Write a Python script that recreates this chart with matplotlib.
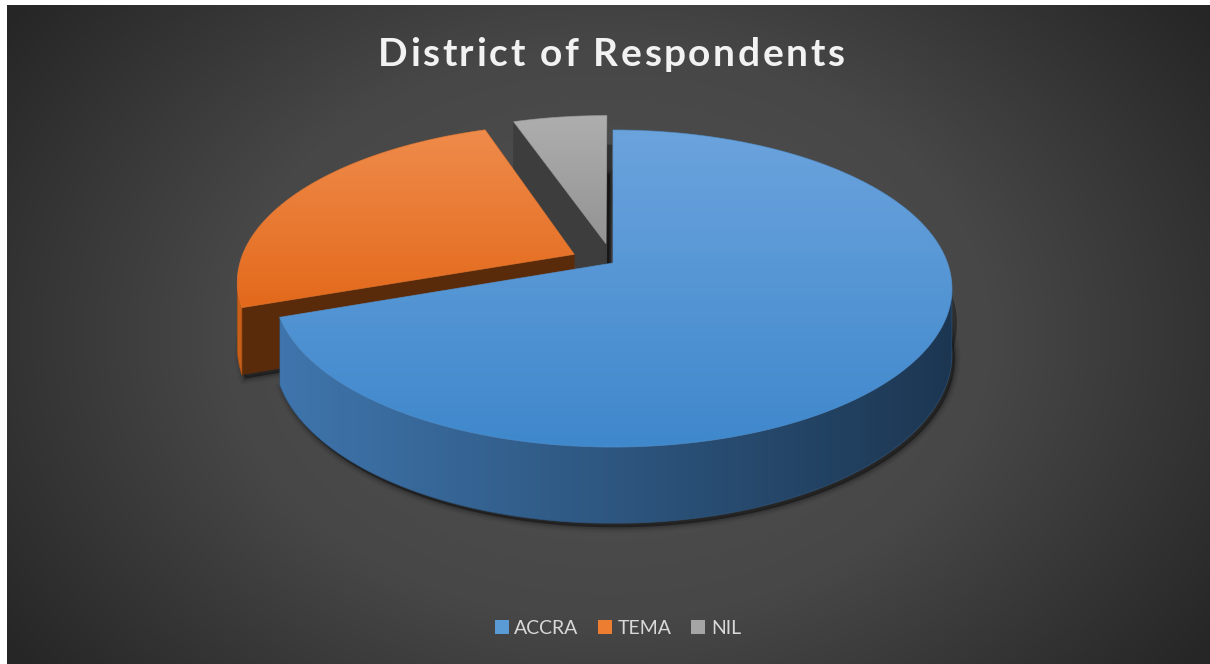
import numpy as np
import matplotlib
matplotlib.use('Agg')
import matplotlib.pyplot as plt
from matplotlib.patches import Polygon, Patch
from matplotlib.colors import to_rgb

labels = ['ACCRA', 'TEMA', 'NIL']
shares = [69.6, 25.1, 5.3]
explode = [0.0, 0.13, 0.13]
title = 'District of Respondents'

legend_col = ['#5B9BD5', '#ED7D31', '#A5A5A5']
top_light = ['#6BA3DD', '#EF8B4B', '#AEAEAE']
top_dark = ['#3F88CC', '#E3691B', '#939393']
side_light = ['#4179B2', '#C9601A', '#7A7A7A']
side_dark = ['#1C3651', '#8A3E0C', '#4A4A4A']
face_col = ['#203F60', '#5A2B0A', '#3D3D3D']

# pseudo-perspective projection of the pie disc (pixel space)
CX, CY = 613.0, 263.0
RX, RY = 334.5, 154.4
PERSP = 0.161
DEPTH = 64.0


def proj(u, v, z):
    s = 1.0 / (1.0 + PERSP * v)
    return np.column_stack([CX + RX * u * s, CY - RY * v * s + z * DEPTH * s])


def shoelace(xy):
    x, y = xy[:, 0], xy[:, 1]
    return 0.5 * np.sum(x * np.roll(y, -1) - np.roll(x, -1) * y)


def grad_fill(ax, xy, c0, c1, vertical=True, span=None, z=3):
    poly = Polygon(xy, closed=True, facecolor='none', edgecolor='none')
    ax.add_patch(poly)
    x0, y0 = xy.min(0)
    x1, y1 = xy.max(0)
    if span is None:
        span = (y0, y1) if vertical else (x0, x1)
    n = 200
    if vertical:
        pos = np.linspace(y0, y1, n)
    else:
        pos = np.linspace(x0, x1, n)
    t = np.clip((pos - span[0]) / (span[1] - span[0]), 0, 1)[:, None]
    cols = np.array(to_rgb(c0)) * (1 - t) + np.array(to_rgb(c1)) * t
    img = cols[:, None, :] if vertical else cols[None, :, :]
    im = ax.imshow(img, extent=(x0, x1, y1, y0), origin='upper',
                   interpolation='bilinear', aspect='auto', zorder=z)
    im.set_clip_path(poly)
    mid = (np.array(to_rgb(c0)) + np.array(to_rgb(c1))) / 2
    ax.add_patch(Polygon(xy, closed=True, facecolor='none', edgecolor=mid,
                         lw=0.6, alpha=0.7, zorder=z))


fig = plt.figure(figsize=(12.1, 6.64), dpi=100, facecolor='white')
ax = fig.add_axes([0, 0, 1, 1])
ax.axis('off')
ax.set_xlim(0, 1210)
ax.set_ylim(664, 0)

# dark radial background
gx = np.arange(7, 1210) + 0.5
gy = np.arange(5, 664) + 0.5
GX, GY = np.meshgrid(gx, gy)
d = np.sqrt(((GX - 608) / 700) ** 2 + ((GY - 334) / 520) ** 2)
lev = np.interp(d, [0, 0.55, 1.05], [82, 71, 38]) / 255
ax.imshow(np.dstack([lev, lev, lev]), extent=(7, 1210, 664, 5), origin='upper',
          aspect='auto', zorder=0)

bounds = np.concatenate([[0], np.cumsum(shares)]) / np.sum(shares) * 360

slices = []
for i in range(len(shares)):
    t0, t1 = np.radians(bounds[i]), np.radians(bounds[i + 1])
    tm = (t0 + t1) / 2
    ex, ey = explode[i] * np.sin(tm), explode[i] * np.cos(tm)
    n = int(np.degrees(t1 - t0) * 2) + 2
    th = np.linspace(t0, t1, n)
    u, v = ex + np.sin(th), ey + np.cos(th)
    slices.append(dict(i=i, ex=ex, ey=ey, u=u, v=v, depth=ey + np.cos(tm)))

# soft shadow under the disc
for s in slices:
    bot = np.vstack([proj(np.array([s['ex']]), np.array([s['ey']]), 1.0),
                     proj(s['u'], s['v'], 1.0)]) + np.array([3.0, 4.0])
    ax.add_patch(Polygon(bot, closed=True, facecolor='black', alpha=0.4,
                         edgecolor='none', zorder=1))
    for lw, a in [(8, 0.05), (5, 0.08), (2.5, 0.12)]:
        ax.add_patch(Polygon(bot, closed=True, facecolor='none', edgecolor='black',
                             lw=lw, alpha=a, zorder=1))
    # cast shadow of the upper body (darkens the gaps between slices)
    full = np.vstack([proj(np.array([s['ex']]), np.array([s['ey']]), 0.5),
                      proj(s['u'], s['v'], 0.5)]) + np.array([5.0, 2.0])
    ax.add_patch(Polygon(full, closed=True, facecolor='black', alpha=0.35,
                         edgecolor='none', zorder=1))

# back slices first
for s in sorted(slices, key=lambda q: -q['depth']):
    i = s['i']
    u, v = s['u'], s['v']
    cu, cv = np.array([s['ex']]), np.array([s['ey']])
    top = proj(u, v, 0.0)
    bot = proj(u, v, 1.0)
    ctop = proj(cu, cv, 0.0)[0]
    cbot = proj(cu, cv, 1.0)[0]

    # radial cut faces
    for face in (np.array([ctop, top[0], bot[0], cbot]),
                 np.array([top[-1], ctop, cbot, bot[-1]])):
        if shoelace(face) < 0:
            ax.add_patch(Polygon(face, closed=True, facecolor=face_col[i],
                                 edgecolor=face_col[i], lw=0.5, zorder=3))

    # curved outer wall, only the segments facing the viewer
    vis = np.array([shoelace(np.array([top[k], top[k + 1], bot[k + 1], bot[k]])) < 0
                    for k in range(len(u) - 1)])
    k = 0
    while k < len(vis):
        if vis[k]:
            j = k
            while j < len(vis) and vis[j]:
                j += 1
            wall = np.vstack([top[k:j + 1], bot[k:j + 1][::-1]])
            grad_fill(ax, wall, side_light[i], side_dark[i], vertical=False,
                      span=(240, 955))
            k = j
        else:
            k += 1

    # top face
    face = np.vstack([ctop, top[::-1]])
    grad_fill(ax, face, top_light[i], top_dark[i], vertical=True)

# title with widened letter spacing
renderer = fig.canvas.get_renderer()
tkw = dict(fontsize=28, fontweight='bold', family='Lato', color='#F2F2F2')
probe = ax.text(0, 0, title, **tkw)
base_w = probe.get_window_extent(renderer).width
probe.remove()
target_w = 467
gap = (target_w - base_w) / (len(title) - 1)
x = 611 - target_w / 2
for k, ch in enumerate(title):
    if k:
        p = ax.text(0, 0, title[:k], **tkw)
        adv = p.get_window_extent(renderer).width
        p.remove()
    else:
        adv = 0
    ax.text(x + adv + k * gap, 66, ch, ha='left', va='baseline', zorder=5, **tkw)

handles = [Patch(facecolor=c, edgecolor='none') for c in legend_col]
leg = ax.legend(handles, labels, loc='center', bbox_to_anchor=(618 / 1210, 1 - 628 / 664),
                bbox_transform=fig.transFigure, ncol=3, frameon=False,
                prop={'family': 'Lato', 'size': 14}, labelcolor='#D9D9D9',
                handlelength=0.72, handleheight=0.72, handletextpad=0.3,
                columnspacing=1.0)

fig.savefig('out.png', dpi=100, facecolor='white')
